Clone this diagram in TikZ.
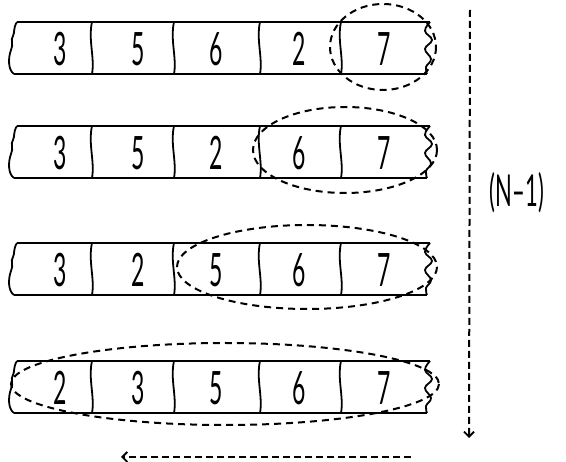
\documentclass[tikz,border=0pt]{standalone}
\usepackage{fontspec}
\usetikzlibrary{arrows.meta}
\newfontfamily\handfont{Lato}[FakeStretch=0.5]
\tikzset{
  every picture/.style={x=1pt,y=-1pt},
  cellline/.style={line width=1.8pt,black},
  digit/.style={font=\handfont\fontsize{46}{46}\selectfont,inner sep=0pt},
  sel/.style={line width=2pt,dash pattern=on 7pt off 5pt},
  flow/.style={line width=2pt,dash pattern=on 7pt off 4pt,-{Straight Barb[length=5pt,width=10pt,line width=1.8pt]}},
  lbl/.style={font=\handfont\fontsize{44}{44}\selectfont,inner sep=0pt}
}
\begin{document}
\begin{tikzpicture}
\useasboundingbox (0,0) rectangle (566,462);
\fill[white] (0,0) rectangle (566,462);
\foreach \T/\a/\b/\c/\d/\e/\r in {22/3/5/6/2/7/1, 126/3/5/2/6/7/2, 243/3/2/5/6/7/3, 361/2/3/5/6/7/4}{
  % top and bottom lines
  \draw[cellline] (17,\T) -- (430,\T);
  \draw[cellline] (14,\T+52) -- (427,\T+52);
  % left torn edge
  \draw[cellline] (17,\T) .. controls (13,\T+6) and (15,\T+10) .. (13,\T+14)
     .. controls (10,\T+18) and (14,\T+22) .. (11,\T+28)
     .. controls (8,\T+36) and (8,\T+48) .. (14,\T+52);
  % right torn edge
  \draw[cellline] plot[smooth,tension=0.7] coordinates {(430,\T) (425,\T+9) (432,\T+18) (425,\T+27) (431,\T+37) (426,\T+45) (427,\T+52)};
  % dividers
  \foreach \dx in {92,174,260,341}{
    \draw[cellline] (\dx,\T) .. controls (\dx-4,\T+18) and (\dx+3,\T+36) .. (\dx,\T+52);
  }
  \node[digit] (c\r-1) at (60,\T+27) {\a};
  \node[digit] (c\r-2) at (138,\T+27) {\b};
  \node[digit] (c\r-3) at (216,\T+27) {\c};
  \node[digit] (c\r-4) at (299,\T+27) {\d};
  \node[digit] (c\r-5) at (384,\T+27) {\e};
}
\draw[sel] (383,47) ellipse [x radius=53, y radius=43];
\draw[sel] (345,150) ellipse [x radius=92, y radius=43];
\draw[sel] (307,267) ellipse [x radius=130, y radius=42];
\draw[sel] (225,384) ellipse [x radius=214, y radius=41];
\coordinate (vtop) at (470,10);
\coordinate (vbot) at (469,438);
\draw[flow] (vtop) -- (vbot);
\coordinate (hright) at (411,457);
\coordinate (hleft) at (121,457);
\draw[flow] (hright) -- (hleft);
\node[lbl] (nlab) at (517,193) {(N–1)};
\end{tikzpicture}
\end{document}
